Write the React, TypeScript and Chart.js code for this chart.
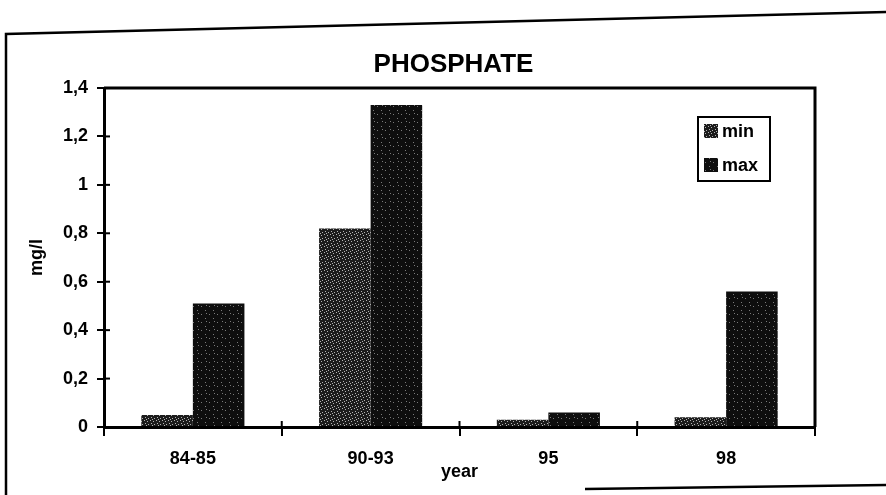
import React, { useEffect, useRef } from 'react';
import { Chart, registerables } from 'chart.js';

Chart.register(...registerables);

const categories = ['84-85', '90-93', '95', '98'];
const minValues = [0.05, 0.82, 0.03, 0.04];
const maxValues = [0.51, 1.33, 0.06, 0.56];
const yTickLabels = ['0', '0,2', '0,4', '0,6', '0,8', '1', '1,2', '1,4'];
const seriesNames = ['min', 'max'];
const chartTitle = 'PHOSPHATE';
const xTitle = 'year';
const yTitle = 'mg/l';

const FONT = '"Liberation Sans", Arial, sans-serif';

function makePattern(base: string, dot: string, size: number, dots: number[][]) {
  const c = document.createElement('canvas');
  c.width = size;
  c.height = size;
  const g = c.getContext('2d')!;
  g.fillStyle = base;
  g.fillRect(0, 0, size, size);
  g.fillStyle = dot;
  dots.forEach(([x, y]) => g.fillRect(x, y, 1, 1));
  const ctx = document.createElement('canvas').getContext('2d')!;
  return ctx.createPattern(c, 'repeat') as CanvasPattern;
}

export default function App() {
  const ref = useRef<HTMLCanvasElement | null>(null);

  useEffect(() => {
    if (!ref.current) return;
    const minFill = makePattern('#1c1c1c', '#b4b4b4', 6, [
      [0, 0], [3, 1], [1, 3], [4, 4], [2, 5],
    ]);
    const maxFill = makePattern('#0e0e0e', '#7a7a7a', 8, [
      [1, 2], [5, 6], [6, 1],
    ]);
    const fills = [minFill, maxFill];

    const decor = {
      id: 'decor',
      beforeDraw(chart: any) {
        const ctx = chart.ctx;
        ctx.save();
        ctx.fillStyle = '#fff';
        ctx.fillRect(0, 0, chart.width, chart.height);
        ctx.strokeStyle = '#000';
        ctx.lineWidth = 2.5;
        ctx.beginPath();
        ctx.moveTo(6, 495);
        ctx.lineTo(6, 34);
        ctx.lineTo(886, 12);
        ctx.stroke();
        ctx.beginPath();
        ctx.moveTo(585, 489);
        ctx.lineTo(886, 485);
        ctx.stroke();
        ctx.restore();
      },
      afterDraw(chart: any) {
        const ctx = chart.ctx;
        const a = chart.chartArea;
        ctx.save();
        ctx.strokeStyle = '#000';
        ctx.lineWidth = 3;
        ctx.beginPath();
        ctx.moveTo(a.left, a.top);
        ctx.lineTo(a.right, a.top);
        ctx.lineTo(a.right, a.bottom);
        ctx.stroke();
        ctx.lineWidth = 2;
        const ys = chart.scales.y;
        ys.ticks.forEach((_: any, i: number) => {
          const y = ys.getPixelForTick(i);
          ctx.beginPath();
          ctx.moveTo(a.left, y);
          ctx.lineTo(a.left + 6, y);
          ctx.stroke();
        });
        const n = categories.length;
        for (let i = 0; i <= n; i++) {
          const x = a.left + (i * (a.right - a.left)) / n;
          ctx.beginPath();
          ctx.moveTo(x, a.bottom);
          ctx.lineTo(x, a.bottom - 6);
          ctx.stroke();
        }
        ctx.fillStyle = '#000';
        ctx.font = `bold 26px ${FONT}`;
        ctx.textAlign = 'center';
        ctx.textBaseline = 'alphabetic';
        ctx.fillText(chartTitle, (a.left + a.right) / 2 - 6, 72);
        const bx = a.right - 117;
        const by = a.top + 29;
        const bw = 72;
        const bh = 64;
        ctx.lineWidth = 2;
        ctx.strokeRect(bx, by, bw, bh);
        ctx.font = `bold 18px ${FONT}`;
        ctx.textAlign = 'left';
        ctx.textBaseline = 'middle';
        seriesNames.forEach((name, i) => {
          const cy = by + 14 + i * 34;
          ctx.fillStyle = fills[i];
          ctx.fillRect(bx + 6, cy - 7, 14, 14);
          ctx.fillStyle = '#000';
          ctx.fillText(name, bx + 24, cy + 1);
        });
        ctx.restore();
      },
    };

    const tickFont = { family: FONT, size: 18, weight: 'bold' as const };

    const chart = new Chart(ref.current, {
      type: 'bar',
      data: {
        labels: categories,
        datasets: [
          {
            label: seriesNames[0],
            data: minValues,
            backgroundColor: minFill,
            borderWidth: 0,
            categoryPercentage: 0.58,
            barPercentage: 1,
          },
          {
            label: seriesNames[1],
            data: maxValues,
            backgroundColor: maxFill,
            borderWidth: 0,
            categoryPercentage: 0.58,
            barPercentage: 1,
          },
        ],
      },
      options: {
        responsive: false,
        animation: false,
        layout: { padding: { top: 88, right: 71, left: 0, bottom: 0 } },
        plugins: {
          legend: { display: false },
          title: { display: false },
          tooltip: { enabled: false },
        },
        scales: {
          x: {
            afterFit: (s: any) => {
              s.height = 68;
            },
            grid: {
              display: true,
              drawOnChartArea: false,
              drawTicks: true,
              tickLength: 9,
              lineWidth: 2,
              color: '#000',
              offset: true,
            },
            border: { display: true, width: 3, color: '#000' },
            ticks: { color: '#000', font: tickFont, padding: 12, maxRotation: 0 },
            title: {
              display: true,
              text: xTitle,
              color: '#000',
              font: tickFont,
              padding: { top: 0, bottom: 12 },
            },
          },
          y: {
            min: 0,
            max: 1.4,
            afterFit: (s: any) => {
              s.width = 104;
            },
            afterBuildTicks: (s: any) => {
              s.ticks = yTickLabels.map((_, i) => ({ value: Math.round(i * 2) / 10 }));
            },
            grid: {
              display: true,
              drawOnChartArea: false,
              drawTicks: true,
              tickLength: 7,
              lineWidth: 2,
              color: '#000',
            },
            border: { display: true, width: 3, color: '#000' },
            ticks: {
              color: '#000',
              font: tickFont,
              padding: 9,
              callback: (_v: any, i: number) => yTickLabels[i],
            },
            title: {
              display: true,
              text: yTitle,
              color: '#000',
              font: tickFont,
              padding: { top: 26, bottom: 0 },
            },
          },
        },
      },
      plugins: [decor],
    });
    return () => chart.destroy();
  }, []);

  return (
    <div
      style={{
        position: 'fixed',
        left: 0,
        top: 0,
        width: 886,
        height: 495,
        background: '#fff',
      }}
    >
      <canvas ref={ref} width={886} height={495} style={{ display: 'block' }} />
    </div>
  );
}
